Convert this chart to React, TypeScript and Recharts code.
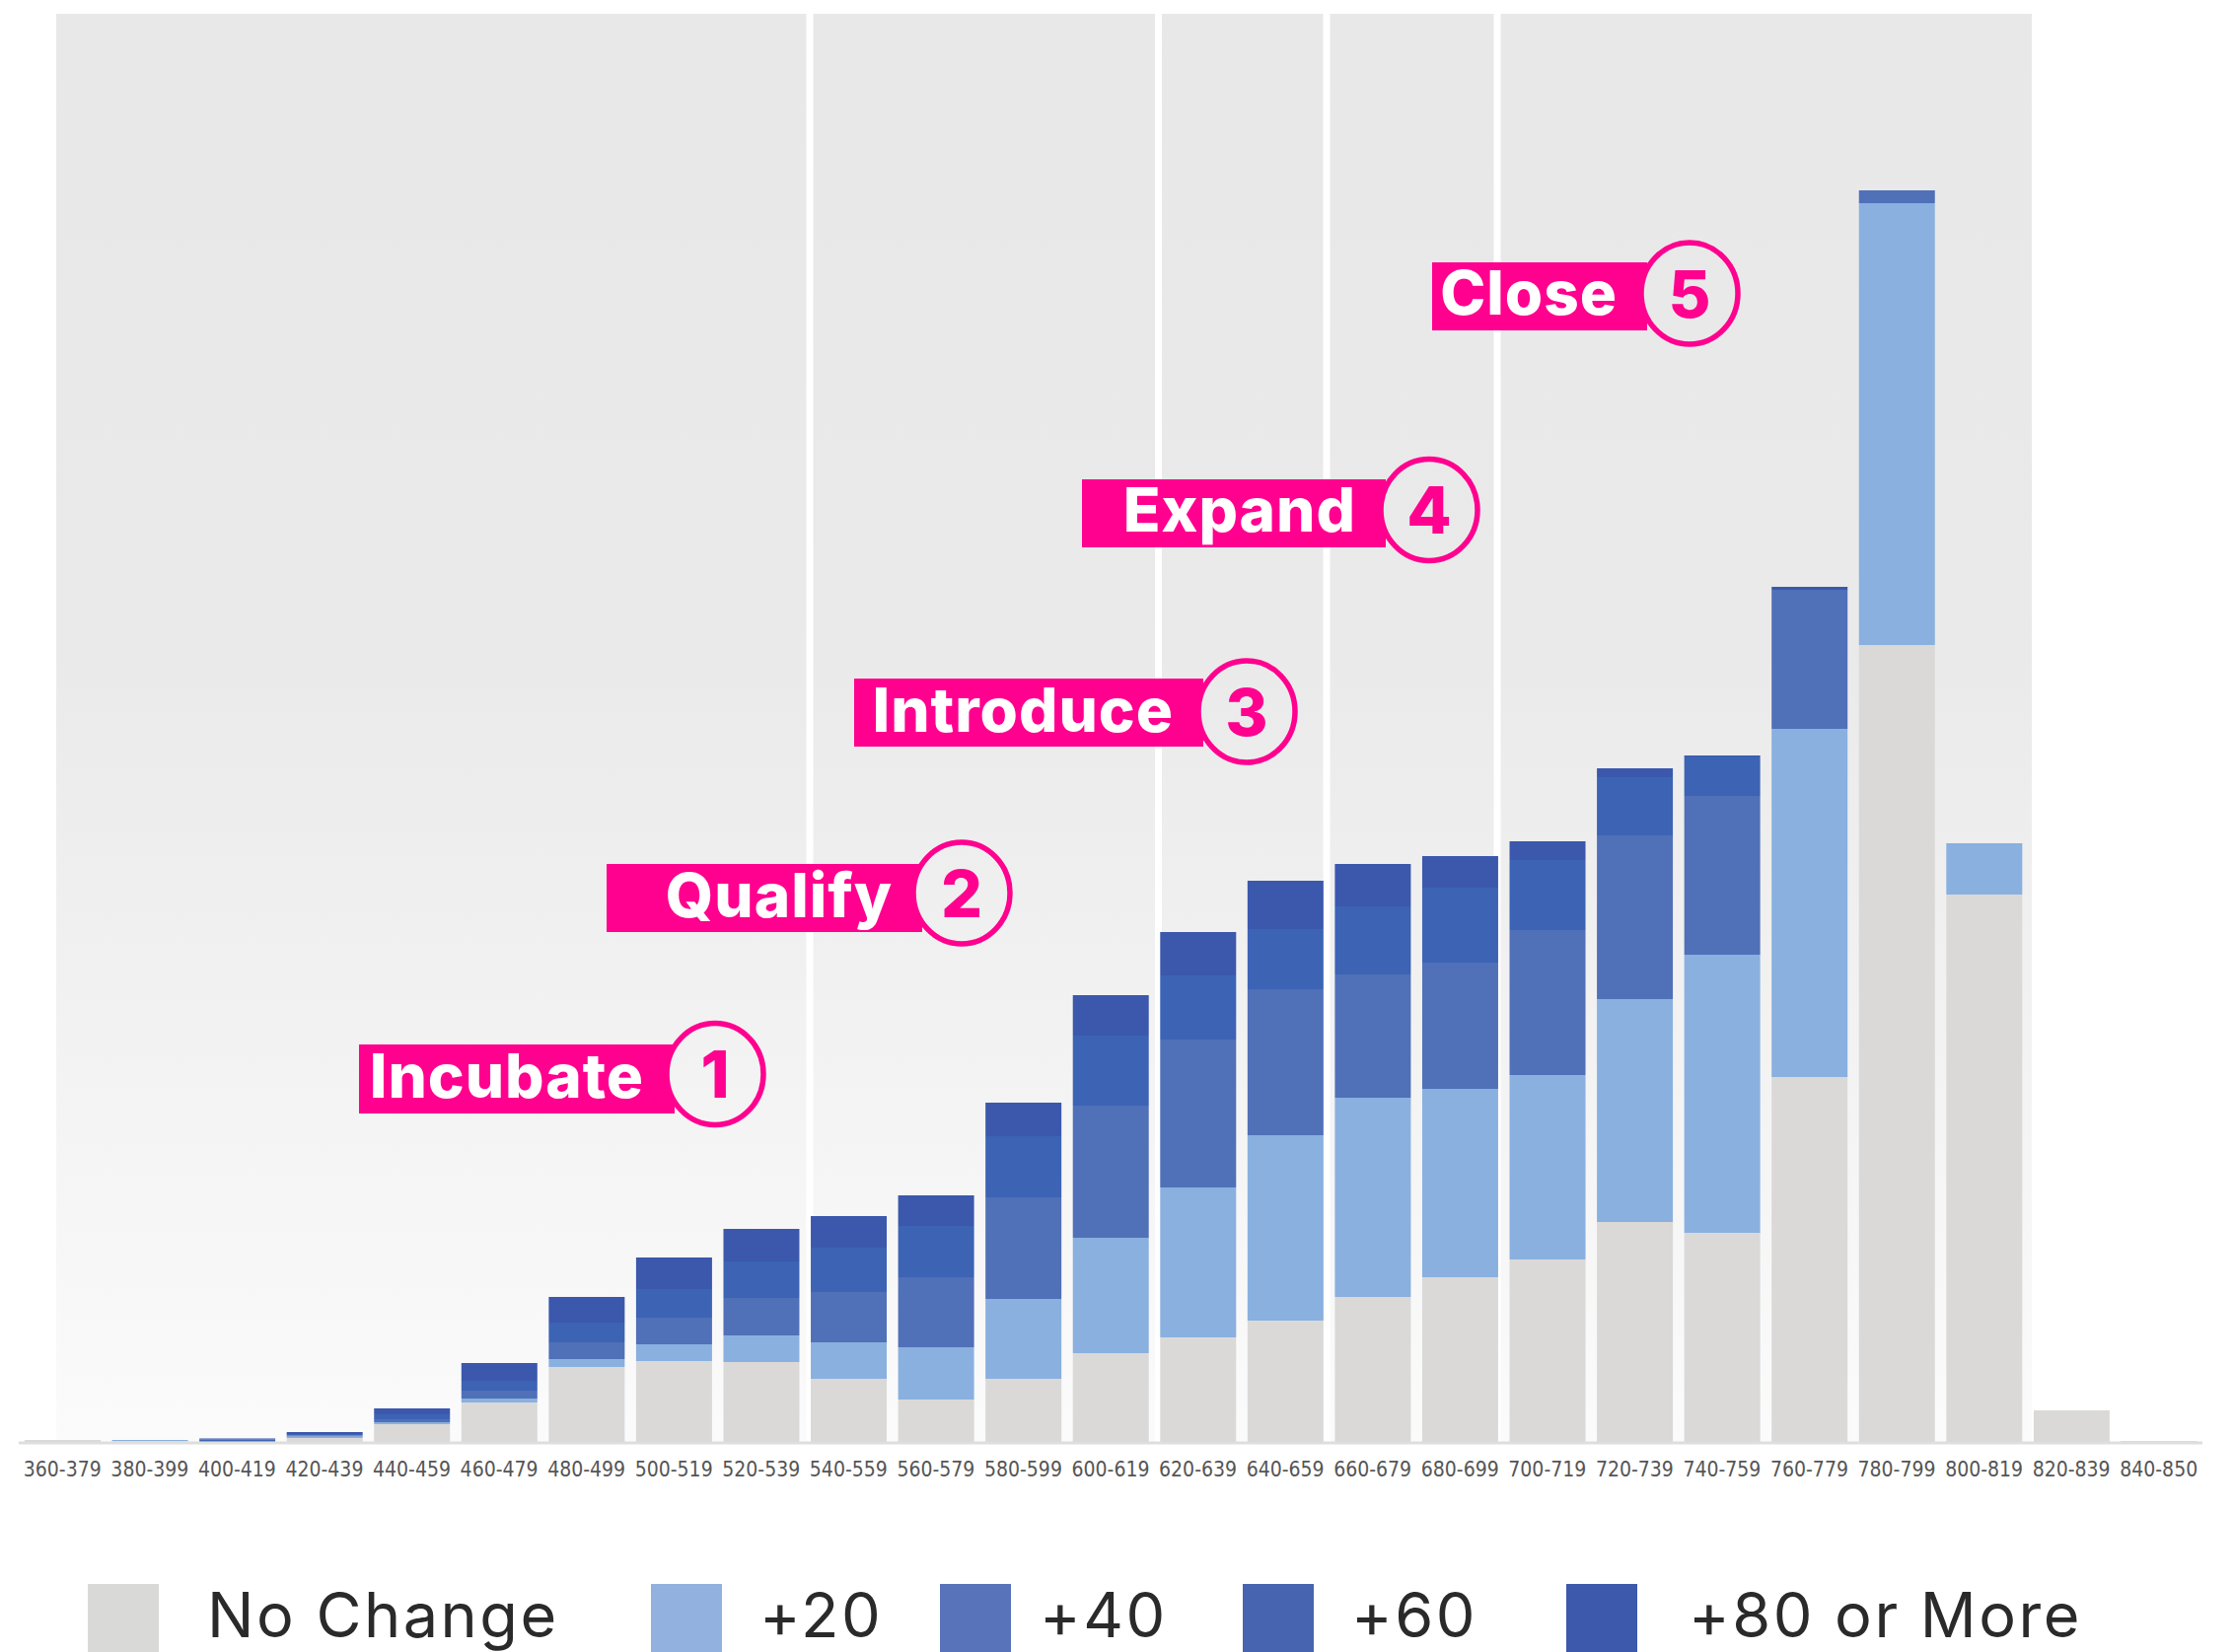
import React from 'react';
import { BarChart, Bar, XAxis, YAxis } from 'recharts';

// score bands along the x axis
const categories = [
  '360-379', '380-399', '400-419', '420-439', '440-459', '460-479', '480-499', '500-519',
  '520-539', '540-559', '560-579', '580-599', '600-619', '620-639', '640-659', '660-679',
  '680-699', '700-719', '720-739', '740-759', '760-779', '780-799', '800-819', '820-839', '840-850',
];

// stacked values per band
const noChange = [3, 2, 1, 5, 19, 41, 77, 83, 82, 65, 44, 65, 91, 107, 124, 148, 168, 186, 224, 213, 371, 809, 556, 33, 2];
const plus20 = [0, 1, 0, 1.5, 2, 4, 8, 17, 27, 37, 53, 81, 117, 152, 188, 202, 191, 187, 226, 282, 353, 448, 52, 0, 0];
const plus40 = [0, 0, 1, 1, 3, 8, 17, 27, 38, 51, 71, 103, 134, 150, 148, 125, 128, 147, 166, 161, 141, 13, 0, 0, 0];
const plus60 = [0, 0, 1.5, 1.5, 5, 10, 20, 29, 37, 45, 52, 62, 71, 65, 61, 69, 76, 71, 59, 40, 0, 0, 0, 0, 0];
const plus80 = [0, 0, 1, 2, 6, 18, 26, 32, 33, 32, 31, 34, 41, 44, 49, 43, 32, 19, 9, 1, 3, 0, 0, 0, 0];

const seriesNames = ['No Change', '+20', '+40', '+60', '+80 or More'];
const stageNames = ['Incubate', 'Qualify', 'Introduce', 'Expand', 'Close'];

const series = [
  { key: 'noChange', name: seriesNames[0], values: noChange, color: '#dad9d8', swatch: '#d9d9d7' },
  { key: 'plus20', name: seriesNames[1], values: plus20, color: '#89b0df', swatch: '#92b1de' },
  { key: 'plus40', name: seriesNames[2], values: plus40, color: '#5070b8', swatch: '#5873ba' },
  { key: 'plus60', name: seriesNames[3], values: plus60, color: '#3c63b4', swatch: '#4764b0' },
  { key: 'plus80', name: seriesNames[4], values: plus80, color: '#3b58ac', swatch: '#3d59ab' },
];

const data = categories.map((band, i) => {
  const row: Record<string, string | number> = { band };
  series.forEach((s) => {
    row[s.key] = s.values[i];
  });
  return row;
});

const W = 2264;
const H = 1675;
const PINK = '#ff008f';
const FONT = 'Inter, "Noto Sans", sans-serif';

// callout boxes (layout only)
const callouts = [
  { x: 364, y: 1059, w: 320, h: 70, cx: 725, cy: 1089, tx: 653, by: 1113 },
  { x: 615, y: 876, w: 320, h: 69, cx: 975, cy: 905.5, tx: 905, by: 930 },
  { x: 866, y: 688, w: 354, h: 69, cx: 1264, cy: 721.5, tx: 1190, by: 742 },
  { x: 1097, y: 486, w: 308, h: 69, cx: 1449, cy: 517, tx: 1375, by: 539 },
  { x: 1452, y: 266, w: 218, h: 69, cx: 1713, cy: 297.5, tx: 1640, by: 319 },
];

const legendPos = [
  { sx: 89, tx: 210 },
  { sx: 660, tx: 770 },
  { sx: 953, tx: 1054 },
  { sx: 1260, tx: 1370 },
  { sx: 1588, tx: 1712 },
];

const dividers = [821, 1174.5, 1345, 1518];

const BgGradient = ({ id }: { id: string }) => (
  <linearGradient id={id} gradientUnits="userSpaceOnUse" x1="0" y1="14" x2="0" y2="1463">
    <stop offset="0" stopColor="#e8e8e8" />
    <stop offset="0.45" stopColor="#eaeaea" />
    <stop offset="1" stopColor="#fbfbfb" />
  </linearGradient>
);

export default function App() {
  return (
    <div style={{ position: 'absolute', left: 0, top: 0, width: W, height: H, background: '#fff' }}>
      <svg width={W} height={H} style={{ position: 'absolute', left: 0, top: 0 }}>
        <defs>
          <BgGradient id="bgA" />
        </defs>
        <rect x={57} y={14} width={2003} height={1449} fill="url(#bgA)" />
        {dividers.map((d) => (
          <rect key={d} x={d - 3.5} y={14} width={7} height={1449} fill="#ffffff" />
        ))}
      </svg>

      <div style={{ position: 'absolute', left: 0, top: 0 }}>
        <BarChart
          width={W}
          height={H}
          data={data}
          margin={{ top: 13, right: 31, bottom: 162, left: 19 }}
          barSize={77}
        >
          <XAxis
            dataKey="band"
            height={50}
            interval={0}
            tickLine={false}
            tickSize={6}
            tickMargin={13}
            axisLine={{ stroke: '#dedede', strokeWidth: 3 }}
            tick={{ fill: '#555555', fontSize: 21, fontFamily: '"DejaVu Sans Condensed", "DejaVu Sans", sans-serif' }}
          />
          <YAxis hide domain={[0, 1450]} />
          {series.map((s) => (
            <Bar key={s.key} dataKey={s.key} name={s.name} stackId="a" fill={s.color} isAnimationActive={false} />
          ))}
        </BarChart>
      </div>

      <svg width={W} height={H} style={{ position: 'absolute', left: 0, top: 0, pointerEvents: 'none' }}>
        <defs>
          <BgGradient id="bgB" />
        </defs>
        {callouts.map((c, i) => (
          <g key={stageNames[i]}>
            <rect x={c.x} y={c.y} width={c.w} height={c.h} fill={PINK} />
            <text
              x={c.tx}
              y={c.by}
              textAnchor="end"
              fill="#ffffff"
              fontFamily={FONT}
              fontWeight={800}
              fontSize={62}
              letterSpacing={1}
            >
              {stageNames[i]}
            </text>
            <ellipse cx={c.cx} cy={c.cy} rx={49} ry={51.5} fill="url(#bgB)" stroke={PINK} strokeWidth={5.5} />
            <text
              x={c.cx}
              y={c.cy + 24}
              textAnchor="middle"
              fill={PINK}
              fontFamily={FONT}
              fontWeight={800}
              fontSize={66}
            >
              {i + 1}
            </text>
          </g>
        ))}
        {series.map((s, i) => (
          <g key={s.key}>
            <rect x={legendPos[i].sx} y={1606} width={72} height={69} fill={s.swatch} />
            <text
              x={legendPos[i].tx}
              y={1660}
              fill="#2a2a2a"
              fontFamily={FONT}
              fontSize={63}
              letterSpacing={2.5}
            >
              {s.name}
            </text>
          </g>
        ))}
      </svg>
    </div>
  );
}
